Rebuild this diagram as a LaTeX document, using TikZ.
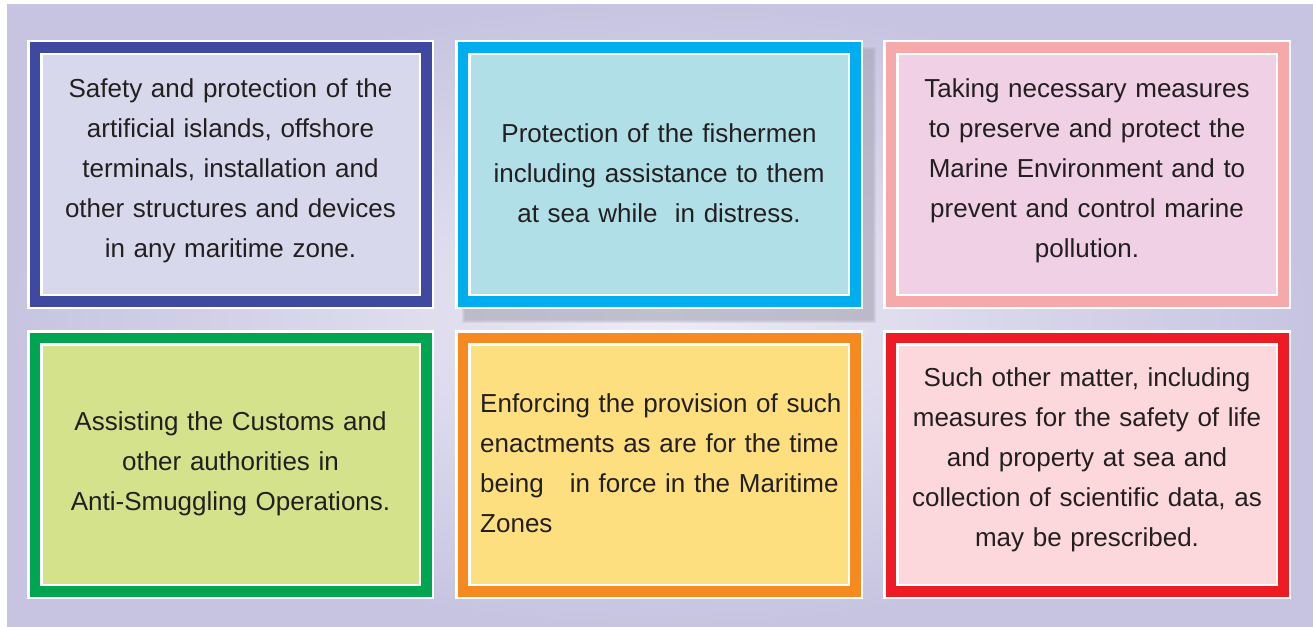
\documentclass[tikz,border=0pt]{standalone}
\usepackage{fontspec}
\setmainfont{Liberation Sans}
\definecolor{bglav}{HTML}{C7C4E1}
\definecolor{bglight}{HTML}{ECEBF5}
\definecolor{txt}{HTML}{231F20}
\definecolor{shadowc}{HTML}{A9A7B8}
\definecolor{bA}{HTML}{3F499F}\definecolor{fA}{HTML}{D8D8EC}
\definecolor{bB}{HTML}{00AEEF}\definecolor{fB}{HTML}{B1DFE7}
\definecolor{bC}{HTML}{F5A9AA}\definecolor{fC}{HTML}{EFD0E5}
\definecolor{bD}{HTML}{00A551}\definecolor{fD}{HTML}{D3E28B}
\definecolor{bE}{HTML}{F6891F}\definecolor{fE}{HTML}{FEDF80}
\definecolor{bF}{HTML}{ED1C24}\definecolor{fF}{HTML}{FCD8DC}
\newcommand\framedpanel[6]{%
  \fill[white] (#1,#2) rectangle (#3,#4);
  \fill[#5] (#1+2.5,#2+2.5) rectangle (#3-2.5,#4-2.5);
  \fill[white] (#1+13,#2+13) rectangle (#3-13,#4-13);
  \fill[#6] (#1+15.5,#2+15.5) rectangle (#3-15.5,#4-15.5);
}
\tikzset{
  label/.style={text=txt, inner sep=0pt, text width=380pt, align=center, anchor=base,
    font=\fontsize{26pt}{40pt}\selectfont},
  labelleft/.style={label, align=left, anchor=base west}
}
\begin{document}
\begin{tikzpicture}[x=1pt,y=-1pt]
\useasboundingbox (0,0) rectangle (1313,626);
\fill[white] (0,0) rectangle (1313,626);
\shade[inner color=bglight, outer color=bglav] (7,5) rectangle (1313,626);
% soft shadow behind the middle top panel
\foreach \k in {0,1,2,3} {
  \fill[shadowc, opacity=0.22] (462+\k,47+\k) rectangle (876-\k,323-\k);
}
% panels
\framedpanel{27}{40}{434}{309}{bA}{fA}
\framedpanel{455}{40}{863}{309}{bB}{fB}
\framedpanel{883}{40}{1291}{309}{bC}{fC}
\framedpanel{27}{330}{434}{599}{bD}{fD}
\framedpanel{455}{330}{863}{599}{bE}{fE}
\framedpanel{883}{330}{1291}{599}{bF}{fF}
% texts
\node[label] (t1) at (230.5,97) {Safety and protection of the\\artificial islands, offshore\\terminals, installation and\\other structures and devices\\in any maritime zone.};
\node[label] (t2) at (659,142) {Protection of the fishermen\\including assistance to them\\at sea while\ \ in distress.};
\node[label] (t3) at (1087,97) {Taking necessary measures\\to preserve and protect the\\Marine Environment and to\\prevent and control marine\\pollution.};
\node[label] (t4) at (230.5,430) {Assisting the Customs and\\other authorities in\\Anti-Smuggling Operations.};
\node[labelleft] (t5) at (480,412) {Enforcing the provision of such\\enactments as are for the time\\being\ \ \ in force in the Maritime\\Zones};
\node[label] (t6) at (1087,386) {Such other matter, including\\measures for the safety of life\\and property at sea and\\collection of scientific data, as\\may be prescribed.};
\end{tikzpicture}
\end{document}
